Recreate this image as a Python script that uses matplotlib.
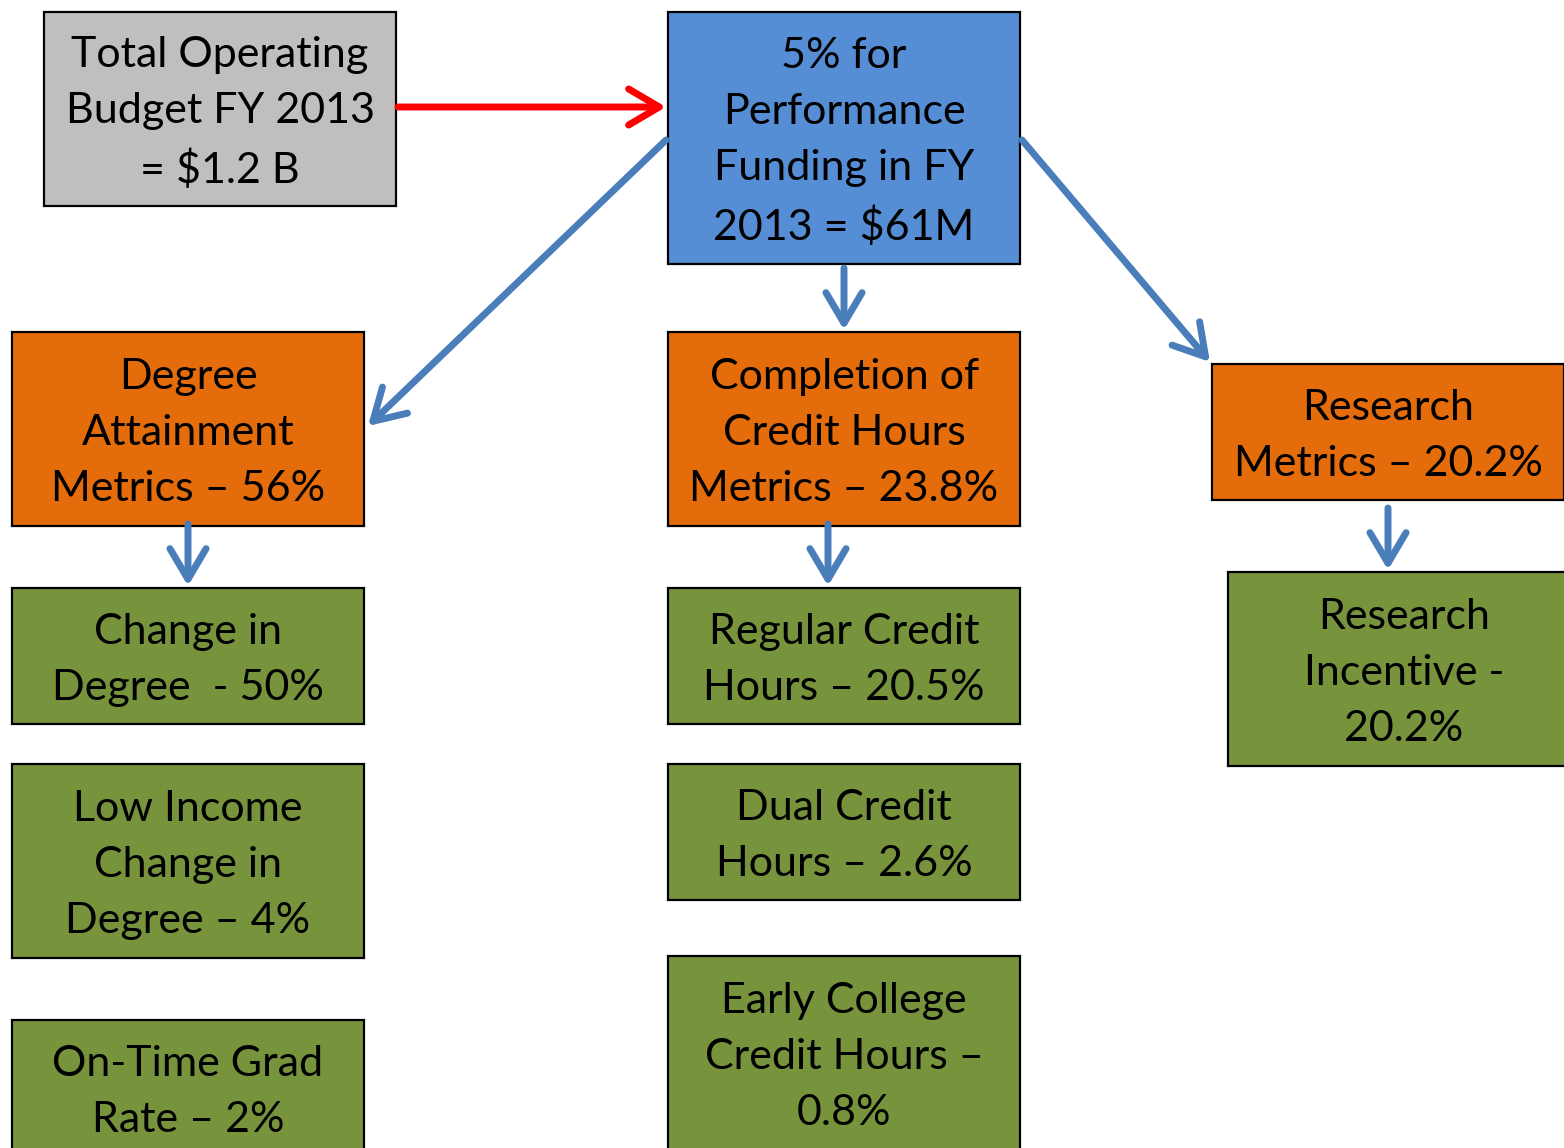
import matplotlib
matplotlib.use("Agg")
import matplotlib.pyplot as plt
from matplotlib.patches import Rectangle, FancyArrowPatch

plt.rcParams['font.family'] = ['Lato', 'DejaVu Sans']

# ---- content ----
labels = [
    "Total Operating\nBudget FY 2013\n= $1.2 B",
    "5% for\nPerformance\nFunding in FY\n2013 = $61M",
    "Degree\nAttainment\nMetrics \u2013 56%",
    "Completion of\nCredit Hours\nMetrics \u2013 23.8%",
    "Research\nMetrics \u2013 20.2%",
    "Change in\nDegree  - 50%",
    "Low Income\nChange in\nDegree \u2013 4%",
    "On-Time Grad\nRate \u2013 2%",
    "Regular Credit\nHours \u2013 20.5%",
    "Dual Credit\nHours \u2013 2.6%",
    "Early College\nCredit Hours \u2013\n0.8%",
    "Research\nIncentive -\n20.2%",
]
kinds = ["total", "perf", "metric", "metric", "metric",
         "sub", "sub", "sub", "sub", "sub", "sub", "sub"]

# ---- layout (pixels: left, top, right, bottom) ----
boxes = [
    (44, 12, 396, 206),
    (668, 12, 1020, 264),
    (12, 332, 364, 526),
    (668, 332, 1020, 526),
    (1212, 364, 1564, 500),
    (12, 588, 364, 724),
    (12, 764, 364, 958),
    (12, 1020, 364, 1156),
    (668, 588, 1020, 724),
    (668, 764, 1020, 900),
    (668, 956, 1020, 1150),
    (1228, 572, 1580, 766),
]
fills = {"total": "#BFBFBF", "perf": "#558ED5", "metric": "#E46C0A", "sub": "#77933C"}

arrows = [
    ((398, 107), (666, 107), "#FF0000"),
    ((666, 140), (368, 426), "#4A7EBB"),
    ((844, 268), (844, 330), "#4A7EBB"),
    ((1022, 140), (1210, 362), "#4A7EBB"),
    ((188, 524), (188, 586), "#4A7EBB"),
    ((828, 524), (828, 586), "#4A7EBB"),
    ((1388, 508), (1388, 570), "#4A7EBB"),
]

W, H = 1564, 1148
fig = plt.figure(figsize=(W / 100, H / 100), dpi=100)
ax = fig.add_axes([0, 0, 1, 1])
ax.set_xlim(0, W)
ax.set_ylim(H, 0)
ax.axis('off')

for (l, t, r, b), lab, k in zip(boxes, labels, kinds):
    ax.add_patch(Rectangle((l, t), r - l, b - t, facecolor=fills[k],
                           edgecolor='black', linewidth=1.6, zorder=2))
    ax.text((l + r) / 2, (t + b) / 2 + 4, lab, ha='center', va='center',
            fontsize=31, linespacing=1.58, color='black', zorder=3)

for (p0, p1, c) in arrows:
    a = FancyArrowPatch(p0, p1, arrowstyle='->,head_length=22,head_width=13',
                        mutation_scale=1, color=c, linewidth=5,
                        shrinkA=0, shrinkB=0, capstyle='round', joinstyle='round',
                        zorder=4)
    ax.add_patch(a)

fig.savefig("out.png", dpi=100)
